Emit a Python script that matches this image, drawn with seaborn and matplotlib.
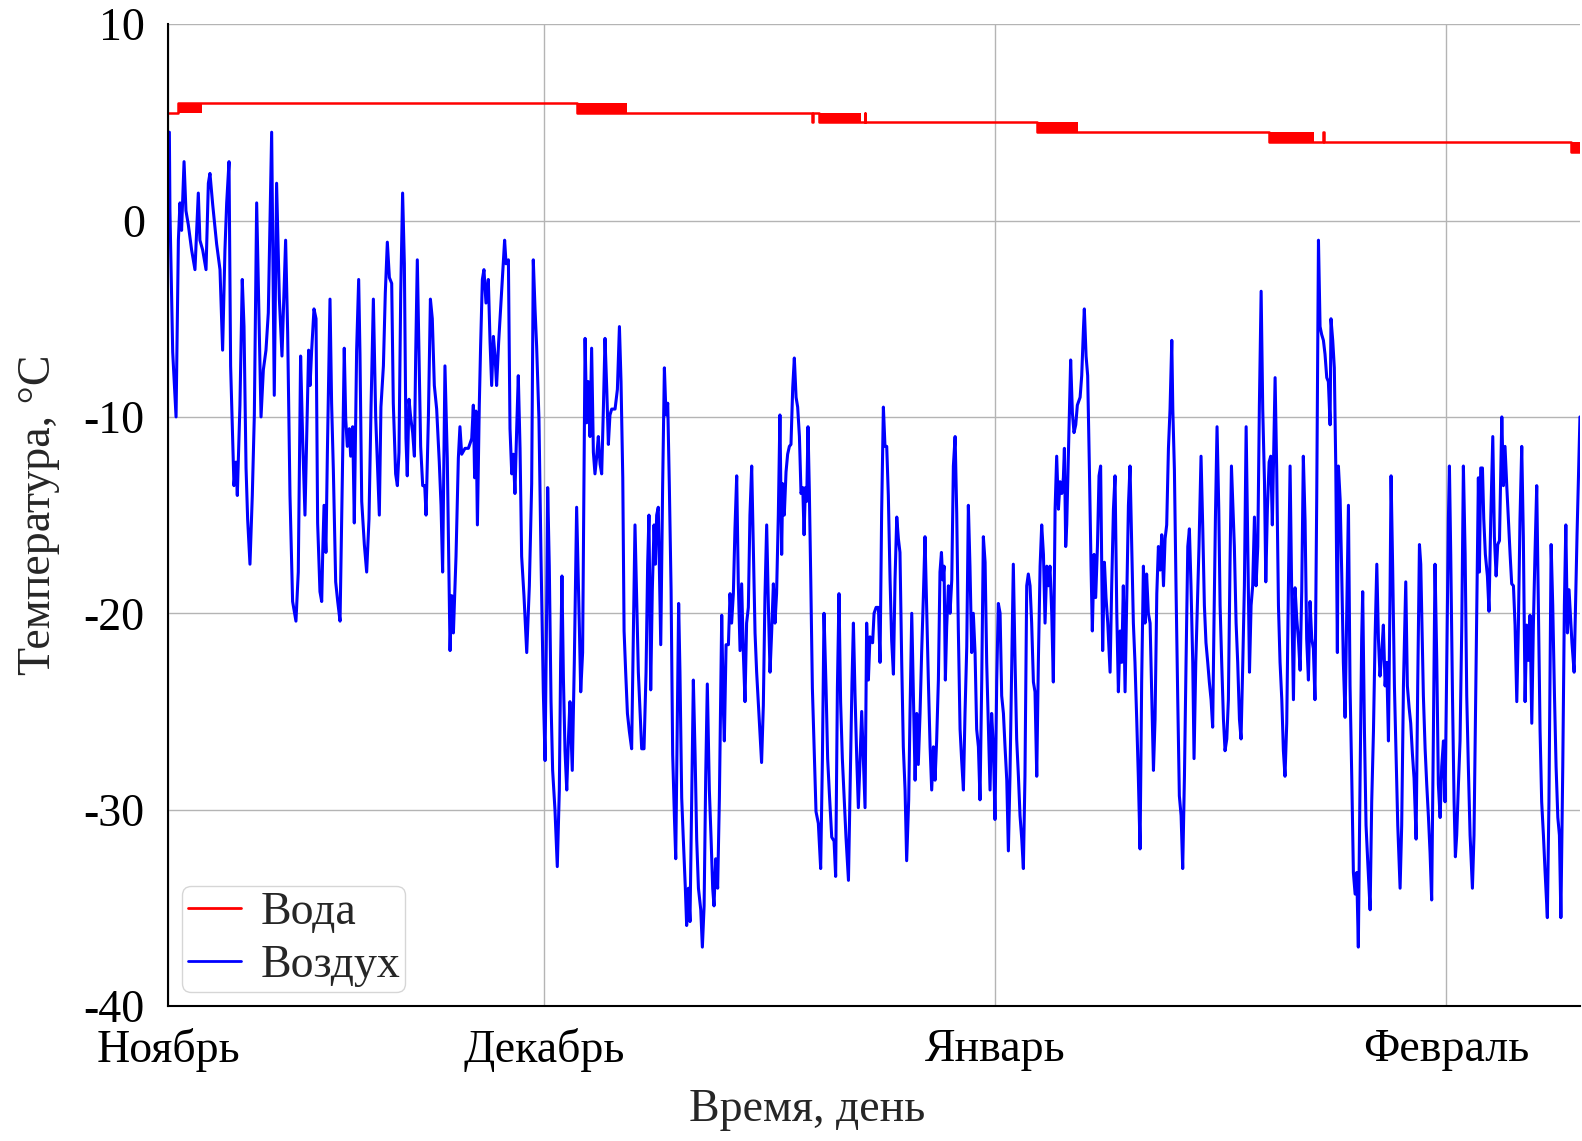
import numpy as np
import pandas as pd
import matplotlib
matplotlib.use("Agg")
import matplotlib.pyplot as plt
import seaborn as sns

# days since the start of the record, air temperature in °C
air_days_1 = [0.06, 0.10, 0.29, 0.52, 0.68, 0.79, 0.90, 1.07, 1.20, 1.36, 1.59, 1.82, 2.05, 2.16, 2.35, 2.58, 2.74, 2.85, 3.04, 3.31,
              3.54, 3.72, 3.88, 4.00, 4.16, 4.27, 4.41, 4.50, 4.64, 4.73, 4.91, 5.07, 5.19, 5.33, 5.44, 5.60, 5.76, 5.90, 6.06, 6.22,
              6.36, 6.52, 6.70, 6.86, 7.09, 7.27, 7.43, 7.62, 7.80, 8.05, 8.19, 8.35, 8.53, 8.76, 8.92, 9.08, 9.22, 9.38, 9.63]
air_temp_1 = [4.5, 0.5, -6.7, -10.0, -1.0, 0.9, -0.5, 3.0, 0.5, -0.2, -1.5, -2.5, 1.4, -1.0, -1.5, -2.5, 1.9, 2.4, 0.8, -1.2,
              -2.5, -6.6, -1.5, 0.9, 3.0, -7.4, -11.1, -13.5, -12.3, -14.0, -9.4, -3.0, -5.4, -12.6, -15.2, -17.5, -14.0, -9.9, 0.9, -5.0,
              -10.0, -7.6, -6.6, -4.7, 4.5, -8.9, 1.9, -4.0, -6.9, -1.0, -5.7, -14.0, -19.4, -20.4, -17.9, -6.9, -11.1, -15.0, -6.6]

air_days_2 = [9.73, 9.84, 10.00, 10.14, 10.25, 10.41, 10.53, 10.60, 10.69, 10.82, 10.92, 11.10, 11.21, 11.33, 11.49, 11.63, 11.79, 11.95,
              12.08, 12.18, 12.29, 12.43, 12.52, 12.66, 12.77, 12.93, 13.07, 13.16, 13.28, 13.46, 13.62, 13.78, 13.92, 14.08, 14.24, 14.35,
              14.49, 14.60, 14.77, 14.90, 15.04, 15.18, 15.34, 15.45, 15.61, 15.73, 15.84, 15.96, 16.09, 16.21, 16.32, 16.41, 16.53, 16.64,
              16.78, 16.90, 16.99, 17.10, 17.22, 17.33, 17.47, 17.61, 17.70, 17.86, 18.00, 18.13, 18.27, 18.43, 18.61, 18.73, 18.84]
air_temp_2 = [-8.4, -6.6, -4.5, -5.0, -15.4, -18.9, -19.4, -16.9, -14.5, -16.9, -11.8, -4.0, -9.3, -12.7, -18.4, -19.4, -20.4, -13.0,
              -6.5, -10.1, -11.5, -10.6, -12.0, -10.5, -15.4, -6.6, -3.0, -6.8, -14.3, -16.5, -17.9, -15.2, -9.5, -4.0, -10.0, -12.2,
              -15.0, -9.5, -7.4, -3.7, -1.1, -2.9, -3.2, -9.3, -12.9, -13.5, -11.8, -3.7, 1.4, -2.2, -11.1, -13.0, -9.1, -10.0,
              -10.8, -12.0, -6.8, -2.0, -6.8, -11.5, -13.5, -13.5, -15.0, -10.1, -4.0, -5.0, -8.4, -9.6, -12.3, -14.5, -17.9]

air_days_3 = [19.00, 19.16, 19.35, 19.46, 19.58, 19.76, 19.92, 20.03, 20.15, 20.38, 20.61, 20.84, 20.95, 21.04, 21.13, 21.23, 21.36, 21.45,
              21.57, 21.68, 21.82, 21.98, 22.10, 22.21, 22.33, 22.44, 22.55, 22.69, 22.85, 23.01, 23.10, 23.20, 23.36, 23.47, 23.59, 23.70,
              23.81, 23.93, 24.04, 24.16, 24.27, 24.43, 24.62, 24.80, 24.96, 25.07, 25.19, 25.30, 25.46, 25.60, 25.76, 25.88, 25.99, 26.06,
              26.17, 26.29, 26.40, 26.56, 26.72, 26.86, 26.95, 27.04, 27.14, 27.25, 27.37, 27.48, 27.59, 27.75, 27.89, 28.05, 28.24, 28.33, 28.46]
air_temp_3 = [-7.4, -12.1, -21.9, -19.1, -21.0, -17.1, -12.1, -10.5, -11.9, -11.6, -11.6, -11.1, -9.4, -13.1, -9.7, -15.5, -9.4, -6.4,
              -3.0, -2.5, -4.2, -3.0, -6.2, -8.4, -5.9, -6.9, -8.4, -6.2, -4.2, -2.2, -1.0, -2.2, -2.0, -10.6, -12.9, -11.9,
              -13.9, -10.6, -7.9, -11.6, -17.1, -19.1, -22.0, -18.6, -13.4, -2.0, -4.5, -6.4, -10.1, -17.1, -24.0, -27.5, -19.6, -13.6,
              -17.6, -24.5, -28.0, -30.0, -32.9, -29.0, -22.5, -18.1, -23.3, -27.0, -29.0, -26.5, -24.5, -28.0, -22.5, -14.6, -20.8, -24.0, -22.0]

air_days_4 = [28.63, 28.74, 28.85, 28.97, 29.08, 29.20, 29.31, 29.43, 29.54, 29.66, 29.77, 29.89, 30.00, 30.12, 30.23, 30.34, 30.46, 30.69,
              30.85, 30.99, 31.10, 31.22, 31.31, 31.42, 31.54, 31.67, 31.83, 31.95, 32.06, 32.18, 32.29, 32.41, 32.52, 32.68, 32.82, 32.93,
              33.02, 33.14, 33.25, 33.37, 33.46, 33.55, 33.66, 33.73, 33.83, 33.96, 34.08, 34.19, 34.31, 34.42, 34.54, 34.65, 34.77, 34.86,
              34.97, 35.06, 35.15, 35.27, 35.38, 35.52, 35.61, 35.73, 35.84, 35.96, 36.07, 36.19, 36.30, 36.42, 36.58, 36.69, 36.81, 36.92,
              37.03, 37.17, 37.29, 37.40, 37.49, 37.61, 37.74, 37.86, 37.97]
air_temp_4 = [-6.0, -10.3, -8.2, -11.0, -6.5, -11.8, -12.9, -12.0, -11.0, -12.4, -12.9, -9.5, -6.0, -8.6, -11.4, -9.9, -9.6, -9.6,
              -8.6, -5.4, -8.2, -13.1, -20.9, -23.0, -25.1, -26.0, -26.9, -20.9, -15.5, -19.4, -23.0, -25.1, -26.9, -26.9, -23.0, -17.5,
              -15.0, -23.9, -18.8, -15.5, -17.5, -15.0, -14.6, -17.5, -21.6, -13.5, -7.5, -9.9, -9.3, -13.5, -18.8, -27.2, -30.4, -32.5,
              -25.1, -19.5, -23.0, -29.4, -31.5, -34.0, -35.9, -34.0, -35.7, -29.4, -23.4, -27.2, -31.5, -34.0, -35.1, -37.0, -34.9, -28.3,
              -23.6, -29.0, -31.5, -34.0, -34.9, -32.5, -34.0, -29.4, -23.0]

air_days_5 = [38.02, 38.13, 38.20, 38.32, 38.48, 38.59, 38.70, 38.82, 38.93, 39.05, 39.16, 39.28, 39.39, 39.50, 39.62, 39.73, 39.85, 39.96,
              40.08, 40.19, 40.31, 40.42, 40.53, 40.65, 40.76, 40.88, 40.99, 41.11, 41.22, 41.34, 41.45, 41.57, 41.68, 41.79, 41.91, 42.02,
              42.14, 42.21, 42.32, 42.44, 42.55, 42.67, 42.78, 42.90, 43.01, 43.13, 43.24, 43.36, 43.47, 43.59, 43.68, 43.77, 43.86, 43.95,
              44.04, 44.14, 44.25, 44.36, 44.50, 44.66, 44.82, 44.94, 45.05, 45.19, 45.30, 45.42, 45.58, 45.74, 45.85, 45.97, 46.08, 46.19,
              46.31, 46.42, 46.56, 46.73, 46.88, 46.97, 47.07, 47.18, 47.30, 47.41, 47.53, 47.64, 47.75, 47.87]
air_temp_5 = [-20.1, -24.8, -26.5, -21.6, -21.6, -19.0, -20.5, -19.0, -15.7, -13.0, -18.5, -21.9, -18.5, -21.9, -24.5, -20.5, -19.7, -15.0,
              -12.5, -16.5, -21.0, -23.0, -24.5, -26.1, -27.6, -24.7, -19.2, -15.5, -19.4, -23.0, -21.0, -18.5, -20.5, -19.0, -15.0, -9.9,
              -17.0, -13.4, -15.0, -12.8, -11.9, -11.5, -11.4, -8.5, -7.0, -9.0, -9.5, -11.0, -13.9, -13.6, -16.0, -13.6, -14.3, -10.5,
              -13.7, -18.3, -23.8, -26.5, -30.1, -30.7, -33.0, -27.4, -20.0, -23.8, -27.4, -29.2, -31.4, -31.6, -33.4, -23.8, -19.0, -24.5,
              -27.4, -29.2, -31.4, -33.6, -27.4, -23.6, -20.5, -24.1, -27.4, -29.9, -27.4, -25.0, -27.4, -29.9]

air_days_6 = [47.98, 48.10, 48.21, 48.39, 48.49, 48.63, 48.79, 48.90, 49.01, 49.13, 49.24, 49.36, 49.47, 49.59, 49.70, 49.82, 49.93, 50.05,
              50.16, 50.27, 50.39, 50.50, 50.62, 50.73, 50.87, 50.96, 51.08, 51.19, 51.31, 51.42, 51.53, 51.65, 51.76, 51.88, 51.99, 52.11,
              52.22, 52.34, 52.45, 52.57, 52.68, 52.79, 52.91, 53.02, 53.12, 53.21, 53.30, 53.39, 53.48, 53.60, 53.71, 53.83, 53.94, 54.06,
              54.17, 54.28, 54.40, 54.51, 54.63, 54.74, 54.86, 54.97, 55.08, 55.20, 55.31, 55.43, 55.54, 55.66, 55.77, 55.89, 56.00, 56.12,
              56.23, 56.35, 56.46, 56.57, 56.69, 56.80, 56.92, 57.03, 57.15, 57.26, 57.38, 57.49, 57.61, 57.72]
air_temp_6 = [-20.5, -23.4, -21.2, -21.5, -20.0, -19.7, -19.7, -22.5, -14.9, -9.5, -11.5, -11.5, -14.0, -18.3, -21.4, -23.1, -18.3, -15.1,
              -16.2, -16.9, -22.5, -26.8, -29.0, -32.6, -29.5, -25.1, -20.0, -24.2, -28.5, -25.1, -27.7, -25.1, -22.0, -19.1, -16.1, -20.0,
              -23.4, -26.8, -29.0, -26.8, -28.5, -26.5, -23.4, -17.9, -16.9, -18.3, -17.6, -23.4, -20.7, -18.6, -20.0, -18.3, -12.5, -11.0,
              -14.9, -20.8, -25.9, -27.5, -29.0, -25.1, -21.7, -14.5, -17.6, -22.0, -20.0, -22.0, -25.9, -26.8, -29.5, -23.4, -16.1, -17.4,
              -22.5, -25.9, -29.0, -25.1, -26.8, -30.5, -23.4, -19.5, -20.0, -24.2, -25.1, -26.8, -28.5, -32.1]

air_days_7 = [57.83, 57.95, 58.06, 58.18, 58.29, 58.41, 58.52, 58.64, 58.75, 58.86, 58.98, 59.09, 59.21, 59.32, 59.44, 59.55, 59.67, 59.78,
              59.90, 60.01, 60.13, 60.24, 60.36, 60.47, 60.58, 60.70, 60.81, 60.93, 61.04, 61.16, 61.27, 61.39, 61.50, 61.57, 61.66, 61.73,
              61.84, 62.00, 62.12, 62.23, 62.35, 62.46, 62.65, 62.76, 62.88, 62.94, 63.06, 63.17, 63.29, 63.40, 63.49, 63.61, 63.72, 63.84,
              63.95, 64.06, 64.20, 64.32, 64.43, 64.55, 64.71, 64.82, 64.94, 65.05, 65.17, 65.28, 65.40, 65.51, 65.62, 65.74, 65.85, 65.97,
              66.08, 66.20, 66.31, 66.42, 66.54, 66.65, 66.77, 66.88, 67.00]
air_temp_7 = [-28.3, -22.5, -17.5, -22.5, -26.4, -28.3, -30.3, -31.5, -33.0, -28.3, -18.6, -18.0, -18.6, -20.5, -23.5, -24.0, -28.3, -22.5,
              -17.6, -15.5, -17.0, -20.5, -17.6, -18.6, -17.6, -20.0, -23.5, -14.7, -12.0, -14.7, -13.3, -13.9, -13.1, -11.6, -16.6, -15.5,
              -12.1, -7.1, -9.8, -10.8, -10.4, -9.4, -9.0, -7.9, -5.5, -4.5, -6.9, -7.9, -12.7, -17.6, -20.9, -17.0, -19.2, -16.6,
              -13.0, -12.5, -21.9, -17.4, -19.2, -20.5, -23.0, -18.6, -14.7, -13.0, -20.0, -24.0, -20.9, -22.5, -18.6, -24.0, -19.6, -14.5,
              -12.5, -16.6, -20.5, -22.5, -25.4, -28.3, -32.0, -23.5, -17.6]

air_days_8 = [67.11, 67.22, 67.34, 67.46, 67.57, 67.69, 67.80, 67.92, 68.03, 68.15, 68.26, 68.38, 68.49, 68.60, 68.72, 68.83, 68.95, 69.02,
              69.13, 69.24, 69.36, 69.47, 69.59, 69.70, 69.82, 69.93, 70.05, 70.16, 70.27, 70.39, 70.48, 70.60, 70.71, 70.82, 70.96, 71.08,
              71.19, 71.30, 71.42, 71.53, 71.65, 71.76, 71.85, 71.95, 72.06, 72.18, 72.27, 72.38, 72.50, 72.61, 72.73, 72.84, 72.95, 73.05,
              73.14, 73.25, 73.37, 73.48, 73.60, 73.71, 73.83, 73.94, 74.06, 74.17, 74.29, 74.40, 74.51, 74.63, 74.74, 74.86, 74.97, 75.09,
              75.20, 75.32, 75.41, 75.52, 75.64, 75.75, 75.86, 75.98, 76.05, 76.16, 76.28, 76.39, 76.51, 76.62, 76.73]
air_temp_8 = [-20.5, -18.0, -20.0, -20.5, -24.0, -28.0, -25.4, -19.0, -16.6, -17.8, -16.0, -18.6, -16.2, -15.5, -11.6, -9.6, -6.1, -9.6,
              -12.7, -18.6, -24.4, -29.3, -30.3, -33.0, -28.3, -22.5, -16.6, -15.7, -18.6, -22.5, -27.4, -22.5, -19.6, -16.6, -12.0, -15.7,
              -19.6, -21.5, -22.5, -23.5, -24.4, -25.8, -20.5, -15.1, -10.5, -14.7, -19.6, -22.5, -25.4, -27.0, -26.4, -24.4, -17.6, -12.5,
              -14.3, -16.6, -20.5, -22.5, -25.4, -26.4, -22.5, -18.6, -10.5, -16.6, -23.0, -19.6, -18.6, -15.1, -18.6, -16.6, -9.4, -3.6,
              -9.6, -13.3, -18.4, -14.7, -12.3, -12.0, -15.5, -10.8, -8.0, -12.7, -19.6, -22.5, -24.4, -27.0, -28.3]

air_days_9 = [76.85, 76.96, 77.08, 77.19, 77.31, 77.42, 77.54, 77.65, 77.77, 77.88, 77.99, 78.11, 78.22, 78.34, 78.45, 78.57, 78.68, 78.79,
              78.91, 79.03, 79.14, 79.25, 79.37, 79.48, 79.60, 79.71, 79.83, 79.89, 80.01, 80.12, 80.22, 80.33, 80.40, 80.52, 80.63, 80.74,
              80.86, 80.97, 81.09, 81.20, 81.32, 81.43, 81.55, 81.66, 81.77, 81.89, 82.00, 82.07, 82.19, 82.30, 82.42, 82.58, 82.69, 82.81,
              82.92, 83.04, 83.15, 83.26, 83.38, 83.49, 83.61, 83.72, 83.84, 83.95, 84.02, 84.13, 84.25, 84.36, 84.48, 84.64, 84.75, 84.87,
              85.03, 85.14, 85.26, 85.37, 85.49, 85.60, 85.74, 85.85, 85.97, 86.06]
air_temp_9 = [-25.6, -18.9, -12.5, -18.9, -24.4, -18.7, -20.3, -21.3, -22.9, -18.9, -12.0, -15.3, -21.3, -23.4, -19.4, -21.3, -21.8, -24.4,
              -14.2, -1.0, -5.4, -5.8, -6.1, -6.8, -8.0, -8.2, -10.4, -5.0, -6.1, -7.5, -12.5, -22.0, -12.5, -14.2, -18.0, -22.5,
              -25.3, -20.1, -14.5, -23.7, -28.4, -33.2, -34.3, -33.2, -37.0, -28.4, -21.3, -18.9, -26.0, -30.8, -32.7, -35.1, -29.6, -26.0,
              -21.3, -17.5, -21.3, -23.2, -22.0, -20.6, -23.7, -22.5, -26.5, -18.9, -13.0, -17.7, -23.7, -27.2, -30.8, -34.0, -30.8, -23.7,
              -18.4, -23.7, -24.8, -25.6, -27.2, -28.4, -31.5, -23.7, -16.5, -17.5]

air_days_10 = [86.24, 86.36, 86.47, 86.59, 86.70, 86.81, 86.93, 87.04, 87.16, 87.27, 87.39, 87.50, 87.62, 87.73, 87.85, 87.96, 88.03, 88.12,
               88.24, 88.35, 88.44, 88.53, 88.65, 88.76, 88.88, 88.99, 89.11, 89.22, 89.33, 89.45, 89.61, 89.72, 89.84, 89.95, 90.02, 90.09,
               90.18, 90.30, 90.39, 90.50, 90.64, 90.75, 90.87, 91.01, 91.12, 91.24, 91.35, 91.47, 91.63, 91.74, 91.85, 91.97, 92.08, 92.20,
               92.31, 92.43, 92.54, 92.66, 92.77, 92.88, 93.00, 93.11, 93.23, 93.34, 93.46, 93.57, 93.69, 93.80, 93.91, 94.03, 94.14, 94.26,
               94.37, 94.49, 94.60, 94.76, 94.87, 95.02, 95.13, 95.25, 95.36, 95.48, 95.59, 95.69, 95.82, 95.93, 96.03, 96.14, 96.25, 96.45,
               96.60, 96.80, 97.00]
air_temp_10 = [-24.2, -26.9, -28.7, -30.4, -32.2, -34.6, -26.0, -17.5, -22.4, -28.7, -30.4, -27.8, -26.5, -29.6, -22.4, -15.2, -12.5, -17.0,
               -24.2, -29.6, -32.4, -31.3, -28.7, -26.5, -20.6, -12.5, -17.0, -24.2, -27.8, -31.3, -34.0, -31.3, -24.2, -17.9, -13.1, -17.9,
               -12.6, -12.6, -15.2, -17.0, -18.1, -19.9, -15.2, -11.0, -16.1, -18.1, -16.5, -16.3, -10.0, -13.5, -11.5, -13.5, -15.2, -17.0,
               -18.5, -18.6, -20.6, -24.5, -20.6, -15.2, -11.5, -16.1, -24.5, -20.6, -22.4, -20.1, -25.6, -20.6, -17.0, -13.5, -19.6, -26.0,
               -29.6, -31.3, -33.1, -35.5, -29.6, -16.5, -19.6, -24.2, -27.8, -30.4, -31.3, -35.5, -27.8, -19.6, -15.5, -21.0, -18.8, -21.5,
               -23.0, -16.0, -10.0]

# water temperature: a 0.5-degree step series, flickering between two levels in the bands
water_days = [0.0, 0.67, 2.28, 28.05, 31.49, 44.25, 44.30, 44.70, 47.60, 47.85, 47.90, 59.70, 62.50, 75.60, 78.70, 79.35, 79.40, 96.40, 97.0]
water_temp = [5.5, 6.0, 6.0, 5.5, 5.5, 5.0, 5.5, 5.0, 5.0, 5.5, 5.0, 4.5, 4.5, 4.0, 4.0, 4.5, 4.0, 3.5, 3.5]
band_start = [0.67, 28.05, 44.70, 59.70, 75.60, 96.40]
band_end = [2.28, 31.49, 47.60, 62.50, 78.70, 97.0]
band_low = [5.5, 5.5, 5.0, 4.5, 4.0, 3.5]
band_high = [6.0, 6.0, 5.5, 5.0, 4.5, 4.0]

month_ticks = [0.0, 25.8, 56.8, 87.8]
month_labels = ["Ноябрь", "Декабрь", "Январь", "Февраль"]


def main():
    air_days = sum([air_days_1, air_days_2, air_days_3, air_days_4, air_days_5,
                    air_days_6, air_days_7, air_days_8, air_days_9, air_days_10], [])
    air_temp = sum([air_temp_1, air_temp_2, air_temp_3, air_temp_4, air_temp_5,
                    air_temp_6, air_temp_7, air_temp_8, air_temp_9, air_temp_10], [])
    air = pd.DataFrame({"day": air_days, "temp": air_temp})
    water = pd.DataFrame({"day": water_days, "temp": water_temp})

    sns.set_style("whitegrid")
    plt.rcParams["font.family"] = ["Liberation Serif", "DejaVu Serif"]
    plt.rcParams["axes.unicode_minus"] = False

    fig = plt.figure(figsize=(15.82, 11.41), dpi=100)
    ax = fig.add_axes([0.1065, 0.1183, 0.8922, 0.8605])

    sns.lineplot(data=water, x="day", y="temp", color="#ff0000", lw=1.8,
                 drawstyle="steps-post", sort=False, estimator=None, ax=ax, label="Вода")
    for s, e, lo, hi in zip(band_start, band_end, band_low, band_high):
        ax.fill_between([s, e], lo, hi, color="#ff0000", lw=0)
    sns.lineplot(data=air, x="day", y="temp", color="#0000ff", lw=2.2,
                 sort=False, estimator=None, ax=ax, label="Воздух")

    ax.set_xlim(0, 97.0)
    ax.set_ylim(-40, 10)
    ax.set_xticks(month_ticks)
    ax.set_xticklabels(month_labels)
    ax.set_yticks([-40, -30, -20, -10, 0, 10])
    ax.tick_params(axis="both", labelsize=33, colors="black", length=5, width=1, direction="out")
    ax.tick_params(axis="x", pad=11)
    ax.tick_params(axis="y", pad=12)
    ax.grid(True, color="#b4b4b4", lw=1)

    ax.set_xlabel("Время, день", fontsize=33, labelpad=12, x=0.4525)
    ax.set_ylabel("Температура, °C", fontsize=33, labelpad=17)

    for side in ["left", "bottom"]:
        ax.spines[side].set_color("black")
        ax.spines[side].set_linewidth(1.5)
    ax.spines["top"].set_visible(False)
    ax.spines["right"].set_visible(False)

    leg = ax.legend(loc="lower left", fontsize=33, frameon=True, handlelength=1.16,
                    handletextpad=0.42, labelspacing=0.23, borderpad=0.12,
                    borderaxespad=0.3, fancybox=True)
    leg.get_frame().set_edgecolor("#cccccc")
    leg.get_frame().set_linewidth(1.0)
    for line in leg.get_lines():
        line.set_linewidth(2.0)

    fig.savefig("out.png", dpi=100)


if __name__ == "__main__":
    main()
